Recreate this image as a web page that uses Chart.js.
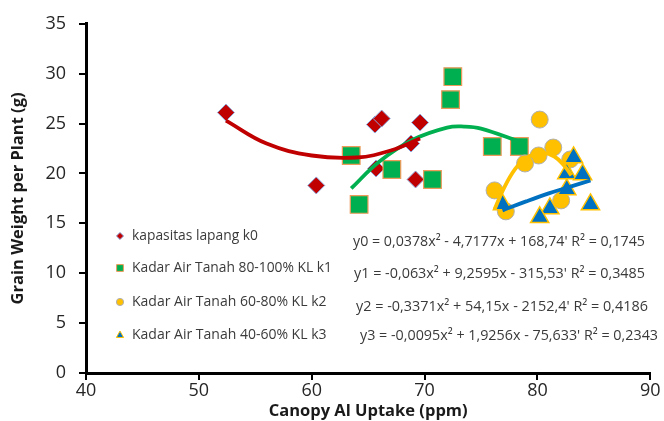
<!DOCTYPE html>
<html>
<head>
<meta charset="utf-8">
<script src="https://cdn.jsdelivr.net/npm/chart.js@4"></script>
<style>
  html, body { margin: 0; padding: 0; background: #fff; }
  #wrap { width: 664px; height: 421px; position: relative; }
</style>
</head>
<body>
<div id="wrap"><canvas id="c" width="664" height="421"></canvas></div>
<script>
// ---- data ----
const k0X = [52.4, 60.4, 65.6, 66.2, 65.7, 68.8, 69.6, 69.2];
const k0Y = [26.1, 18.8, 24.9, 25.5, 20.5, 23.0, 25.1, 19.4];
const k1X = [63.5, 64.2, 67.1, 70.7, 72.3, 72.5, 76.0, 78.4];
const k1Y = [21.8, 16.9, 20.4, 19.4, 27.4, 29.7, 22.7, 22.7];
const k2X = [80.2, 81.4, 80.1, 78.9, 76.2, 77.2, 82.1, 82.9];
const k2Y = [25.4, 22.6, 21.8, 21.0, 18.3, 16.2, 17.3, 21.4];
const k3X = [83.2, 82.6, 84.0, 82.6, 76.9, 81.1, 80.2, 84.7];
const k3Y = [21.6, 20.0, 19.9, 18.4, 16.9, 16.5, 15.6, 16.9];

// trendline points
const t0X = [52.4, 56, 60, 64, 67, 69.6];
const t0Y = [25.3, 23.0, 21.8, 21.6, 22.3, 23.5];
const t1X = [63.5, 66, 69, 72, 73.5, 75, 78.4];
const t1Y = [18.5, 21.2, 23.4, 24.6, 24.7, 24.5, 23.2];
const t2X = [76.2, 77, 78, 79, 80.3, 81.5, 82.5, 83.0];
const t2Y = [16.4, 18.45, 20.4, 21.55, 22.05, 21.7, 20.6, 19.8];
const t3X = [76.9, 79, 81, 83, 84.7];
const t3Y = [16.3, 17.2, 18.0, 18.7, 19.3];

const legendLabels = [
  'kapasitas lapang k0',
  'Kadar Air Tanah 80-100% KL k1',
  'Kadar Air Tanah 60-80% KL k2',
  'Kadar Air Tanah 40-60% KL k3'
];
const equations = [
  "y0 = 0,0378x² - 4,7177x + 168,74' R² = 0,1745",
  "y1 = -0,063x² + 9,2595x - 315,53' R² = 0,3485",
  "y2 = -0,3371x² + 54,15x - 2152,4' R² = 0,4186",
  "y3 = -0,0095x² + 1,9256x - 75,633' R² = 0,2343"
];
const xTicks = [40, 50, 60, 70, 80, 90];
const yTicks = [0, 5, 10, 15, 20, 25, 30, 35];
const xTitle = 'Canopy Al Uptake (ppm)';
const yTitle = 'Grain Weight per Plant (g)';

const zip = (xs, ys) => xs.map((x, i) => ({x: x, y: ys[i]}));

const FONT = "'Open Sans', 'Noto Sans', sans-serif";

const styles = [
  {fill: '#C00000', border: '#8EA9DB', bw: 1, shape: 'rectRot', r: 8.5, line: '#C00000'},
  {fill: '#00B050', border: '#ED9A5B', bw: 1.2, shape: 'rect', r: 12.5, line: '#00B050'},
  {fill: '#FFC000', border: '#AFAFAF', bw: 1, shape: 'circle', r: 8.5, line: '#FFC000'},
  {fill: '#0070C0', border: '#FFC000', bw: 1.5, shape: 'triangle', r: 10.5, line: '#0070C0'}
];

const ptsX = [k0X, k1X, k2X, k3X];
const ptsY = [k0Y, k1Y, k2Y, k3Y];
const trX = [t0X, t1X, t2X, t3X];
const trY = [t0Y, t1Y, t2Y, t3Y];
const scatterOrder = [13, 12, 11, 10];

const datasets = [];
for (let i = 0; i < 4; i++) {
  const s = styles[i];
  datasets.push({
    label: legendLabels[i],
    data: zip(ptsX[i], ptsY[i]),
    pointStyle: s.shape,
    pointRadius: s.r,
    pointHoverRadius: s.r,
    backgroundColor: s.fill,
    borderColor: s.border,
    borderWidth: s.bw,
    showLine: false,
    order: scatterOrder[i]
  });
}
for (let i = 0; i < 4; i++) {
  datasets.push({
    label: 'trend' + i,
    data: zip(trX[i], trY[i]),
    showLine: true,
    pointRadius: 0,
    borderColor: styles[i].line,
    backgroundColor: styles[i].line,
    borderWidth: 3.8,
    tension: 0.4,
    fill: false,
    order: i
  });
}

function drawMarker(ctx, shape, x, y, r, fill, border) {
  ctx.save();
  ctx.fillStyle = fill;
  ctx.strokeStyle = border;
  ctx.lineWidth = 1;
  ctx.beginPath();
  if (shape === 'rectRot') {
    ctx.moveTo(x, y - r); ctx.lineTo(x + r, y); ctx.lineTo(x, y + r); ctx.lineTo(x - r, y); ctx.closePath();
  } else if (shape === 'rect') {
    ctx.rect(x - r, y - r, 2 * r, 2 * r);
  } else if (shape === 'circle') {
    ctx.arc(x, y, r, 0, Math.PI * 2);
  } else {
    ctx.moveTo(x, y - r * 1.1); ctx.lineTo(x + r, y + r * 0.7); ctx.lineTo(x - r, y + r * 0.7); ctx.closePath();
  }
  ctx.fill();
  ctx.stroke();
  ctx.restore();
}

const legendPlugin = {
  id: 'insideLegend',
  afterDraw(chart) {
    const ctx = chart.ctx;
    const legY = [236, 268, 302, 335];
    const eqY = [242, 274, 307, 336];
    const eqX = [353, 354, 356, 360];
    const eqW = [292, 291, 292, 298];
    const legW = [126, 200, 196, 196];
    const mk = [3.6, 3.4, 3.6, 3.6];
    ctx.save();
    ctx.textBaseline = 'middle';
    ctx.textAlign = 'left';
    for (let i = 0; i < 4; i++) {
      drawMarker(ctx, styles[i].shape, 120, legY[i], mk[i], styles[i].fill, styles[i].border);
      ctx.fillStyle = '#3a3a3a';
      ctx.font = '14px ' + FONT;
      ctx.fillText(legendLabels[i], 132, legY[i], legW[i]);
      ctx.font = '14.5px ' + FONT;
      ctx.fillText(equations[i], eqX[i], eqY[i], eqW[i]);
    }
    ctx.restore();
  }
};

new Chart(document.getElementById('c'), {
  type: 'scatter',
  data: { datasets: datasets },
  plugins: [legendPlugin],
  options: {
    responsive: false,
    animation: false,
    layout: { padding: { left: 0, right: 12, top: 21, bottom: 0 } },
    plugins: { legend: { display: false }, tooltip: { enabled: false } },
    scales: {
      x: {
        type: 'linear',
        min: 40, max: 90,
        afterBuildTicks: (sc) => { sc.ticks = xTicks.map(v => ({value: v})); },
        afterFit: (sc) => { sc.height = 48; },
        border: { display: true, color: '#000', width: 3 },
        grid: { drawOnChartArea: false, drawTicks: true, tickLength: 7, color: '#000', lineWidth: 2 },
        ticks: { font: { family: FONT, size: 18 }, color: '#262626', padding: 0, maxRotation: 0 },
        title: { display: true, text: xTitle, font: { family: FONT, size: 16.5, weight: 'bold' }, color: '#1a1a1a', padding: { top: 0, bottom: 0 } }
      },
      y: {
        type: 'linear',
        min: 0, max: 35,
        afterBuildTicks: (sc) => { sc.ticks = yTicks.map(v => ({value: v})); },
        afterFit: (sc) => { sc.width = 86; },
        border: { display: true, color: '#000', width: 3 },
        grid: { drawOnChartArea: false, drawTicks: true, tickLength: 7, color: '#000', lineWidth: 2 },
        ticks: { font: { family: FONT, size: 18 }, color: '#262626', padding: 13 },
        title: { display: true, text: yTitle, font: { family: FONT, size: 16.5, weight: 'bold' }, color: '#1a1a1a', padding: { top: 8, bottom: 0 } }
      }
    }
  }
});
</script>
</body>
</html>
